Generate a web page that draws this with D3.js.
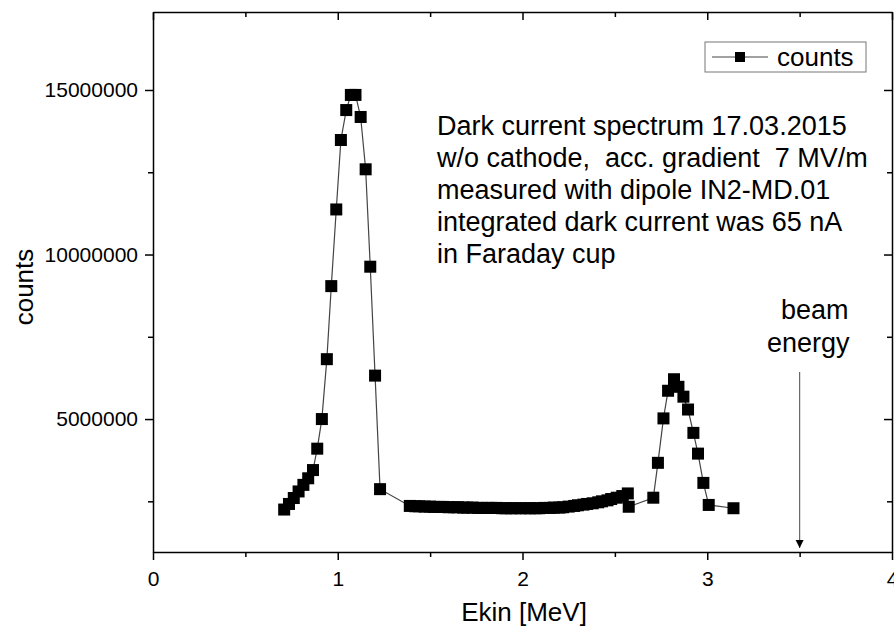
<!doctype html>
<html lang="en">
<head>
<meta charset="utf-8">
<style>
html, body { margin: 0; padding: 0; background: #fff; overflow: hidden; }
svg { display: block; font-family: "Liberation Sans", Arial, sans-serif; }
.axis path, .axis line { stroke: #000; stroke-width: 1.5; }
.axis text { font-size: 21px; fill: #000; font-family: "Liberation Sans", Arial, sans-serif; }
.note { white-space: pre; }
</style>
</head>
<body>
<svg id="chart" width="894" height="636"></svg>
<script src="https://cdn.jsdelivr.net/npm/d3@7"></script>
<script>
// energy [MeV] and counts
const energy = [
  0.71, 0.736, 0.762, 0.788, 0.814, 0.84, 0.866, 0.889, 0.914, 0.941, 0.965, 0.992, 1.017, 1.046, 1.071, 1.096,
  1.124, 1.151, 1.176, 1.202, 1.229,
  1.39, 1.42, 1.44, 1.47, 1.50, 1.52, 1.55, 1.57, 1.60, 1.63, 1.65, 1.68, 1.70, 1.73, 1.76, 1.78,
  1.81, 1.83, 1.86, 1.89, 1.91, 1.94, 1.96, 1.99, 2.02, 2.04, 2.07, 2.09, 2.12, 2.15, 2.17, 2.20,
  2.22, 2.25, 2.28, 2.30, 2.33, 2.35, 2.38, 2.41, 2.43, 2.46, 2.48, 2.51, 2.54, 2.57,
  2.575, 2.708, 2.733, 2.763, 2.788, 2.82, 2.844, 2.871, 2.896, 2.925, 2.95, 2.979, 3.008, 3.142
];
const counts = [
  2250000, 2420000, 2600000, 2800000, 3000000, 3200000, 3450000, 4100000, 5000000, 6820000, 9040000, 11370000, 13480000, 14390000, 14850000, 14850000,
  14180000, 12590000, 9630000, 6320000, 2870000,
  2360000, 2350000, 2350000, 2340000, 2340000, 2330000, 2330000, 2330000, 2320000, 2320000, 2320000, 2310000, 2310000, 2310000, 2300000, 2300000,
  2300000, 2300000, 2300000, 2290000, 2290000, 2290000, 2290000, 2290000, 2290000, 2290000, 2290000, 2290000, 2300000, 2300000, 2310000, 2310000,
  2320000, 2340000, 2360000, 2380000, 2400000, 2420000, 2440000, 2470000, 2500000, 2530000, 2570000, 2610000, 2660000, 2740000,
  2335000, 2610000, 3670000, 5020000, 5860000, 6210000, 5980000, 5680000, 5290000, 4580000, 3950000, 3060000, 2390000, 2290000
];
const xTicks = [0, 1, 2, 3, 4];
const yTicks = [5000000, 10000000, 15000000];
const noteLines = [
  "Dark current spectrum 17.03.2015",
  "w/o cathode,  acc. gradient  7 MV/m",
  "measured with dipole IN2-MD.01",
  "integrated dark current was 65 nA",
  "in Faraday cup"
];
const beamEnergy = 3.5;

const svg = d3.select('#chart');
const pL = 153, pR = 892, pT = 12, pB = 552;

const x = d3.scaleLinear().domain([0, 4]).range([pL, pR]);
const y = d3.scaleLinear().domain([960000, 17370000]).range([pB, pT]);

// minor ticks every half step
const xMinor = [0.5, 1.5, 2.5, 3.5];
const yMinor = [2500000, 7500000, 12500000];

// bottom axis
svg.append('g').attr('class', 'axis').attr('transform', `translate(0,${pB})`)
    .call(d3.axisBottom(x).tickValues(xTicks).tickFormat(d3.format('d')).tickSize(8).tickSizeOuter(0).tickPadding(11));
svg.append('g').attr('class', 'axis').attr('transform', `translate(0,${pB})`)
    .call(d3.axisBottom(x).tickValues(xMinor).tickFormat('').tickSize(5).tickSizeOuter(0))
    .select('.domain').remove();

// left axis
svg.append('g').attr('class', 'axis').attr('transform', `translate(${pL},0)`)
    .call(d3.axisLeft(y).tickValues(yTicks).tickFormat(d3.format('d')).tickSize(8).tickSizeOuter(0).tickPadding(7));
svg.append('g').attr('class', 'axis').attr('transform', `translate(${pL},0)`)
    .call(d3.axisLeft(y).tickValues(yMinor).tickFormat('').tickSize(5).tickSizeOuter(0))
    .select('.domain').remove();

// top and right mirror axes, ticks inward
svg.append('g').attr('class', 'axis').attr('transform', `translate(0,${pT})`)
    .call(d3.axisTop(x).tickValues(xTicks).tickFormat('').tickSize(-8).tickSizeOuter(0));
svg.append('g').attr('class', 'axis').attr('transform', `translate(0,${pT})`)
    .call(d3.axisTop(x).tickValues(xMinor).tickFormat('').tickSize(-5).tickSizeOuter(0))
    .select('.domain').remove();
svg.append('g').attr('class', 'axis').attr('transform', `translate(${pR},0)`)
    .call(d3.axisRight(y).tickValues(yTicks).tickFormat('').tickSize(-8).tickSizeOuter(0));
svg.append('g').attr('class', 'axis').attr('transform', `translate(${pR},0)`)
    .call(d3.axisRight(y).tickValues(yMinor).tickFormat('').tickSize(-5).tickSizeOuter(0))
    .select('.domain').remove();

// axis titles
svg.append('text').attr('x', 524).attr('y', 621)
    .attr('text-anchor', 'middle').attr('font-size', 26).text('Ekin [MeV]');
svg.append('text').attr('transform', 'translate(33,287) rotate(-90)')
    .attr('text-anchor', 'middle').attr('font-size', 26).text('counts');

// data line + markers
const pts = energy.map((e, i) => [e, counts[i]]);
svg.append('path').datum(pts)
    .attr('fill', 'none').attr('stroke', '#444').attr('stroke-width', 1.2)
    .attr('d', d3.line().x(d => x(d[0])).y(d => y(d[1])));
const ms = 12;
svg.append('g').selectAll('rect').data(pts).join('rect')
    .attr('x', d => x(d[0]) - ms / 2).attr('y', d => y(d[1]) - ms / 2)
    .attr('width', ms).attr('height', ms).attr('fill', '#000');

// annotation text
svg.append('g').selectAll('text').data(noteLines).join('text')
    .attr('class', 'note')
    .attr('x', 437).attr('y', (d, i) => 135 + i * 32)
    .attr('font-size', 27).attr('fill', '#000').text(d => d);

// beam energy arrow
svg.append('defs').append('marker').attr('id', 'arrow')
    .attr('viewBox', '0 0 10 10').attr('refX', 10).attr('refY', 5)
    .attr('markerWidth', 8).attr('markerHeight', 12).attr('orient', 'auto')
    .attr('markerUnits', 'userSpaceOnUse')
    .append('path').attr('d', 'M0,0 L10,5 L0,10 Z').attr('fill', '#000');
svg.append('line').attr('x1', x(beamEnergy)).attr('x2', x(beamEnergy))
    .attr('y1', 372).attr('y2', 548)
    .attr('stroke', '#666').attr('stroke-width', 1.2).attr('marker-end', 'url(#arrow)');
svg.append('text').attr('x', 781).attr('y', 319).attr('font-size', 27).text('beam');
svg.append('text').attr('x', 767).attr('y', 352).attr('font-size', 27).text('energy');

// legend
const lg = svg.append('g');
lg.append('rect').attr('x', 705).attr('y', 42).attr('width', 161).attr('height', 30)
    .attr('fill', '#fff').attr('stroke', '#777').attr('stroke-width', 1);
lg.append('line').attr('x1', 712).attr('x2', 768).attr('y1', 57).attr('y2', 57)
    .attr('stroke', '#444').attr('stroke-width', 1.2);
lg.append('rect').attr('x', 735).attr('y', 52).attr('width', 10).attr('height', 10).attr('fill', '#000');
lg.append('text').attr('x', 777).attr('y', 66).attr('font-size', 26).text('counts');
</script>
</body>
</html>
